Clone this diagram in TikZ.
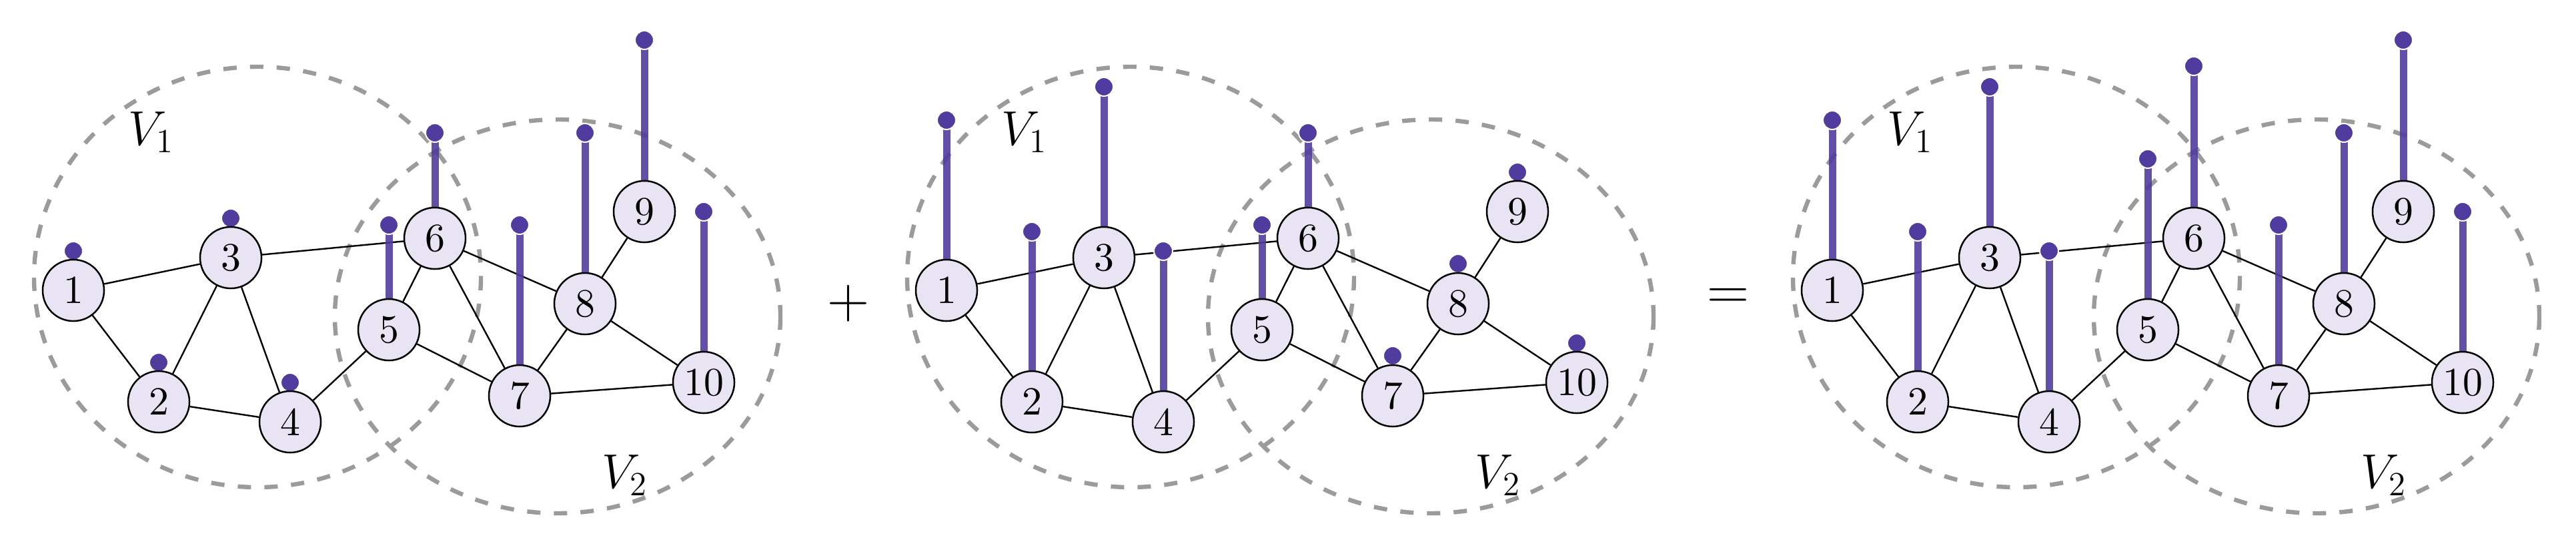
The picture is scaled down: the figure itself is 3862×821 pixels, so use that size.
\documentclass[tikz,border=0pt]{standalone}
\usepackage{fontspec}
\usepackage{tikz}
\usetikzlibrary{backgrounds}
\newfontfamily\nodefont{lmroman10-regular.otf}
\definecolor{nodefill}{RGB}{232,228,243}
\definecolor{sigpurple}{RGB}{80,60,158}
\definecolor{setgray}{RGB}{155,155,155}
\def\sigpanel#1#2#3{%
	\begin{scope}[shift={(#1,0)}]
		\foreach \i/\x/\y in {1/110/435, 2/238/602, 3/346/386, 4/435/632, 5/583/494, 6/652/357, 7/779/593, 8/877/455, 9/966/317, 10/1055/573}
			\node[vertex] (#2\i) at (\x,\y) {\i};
		\node[setlabel] (#2V1) at (227,198) {$V_1$};
		\node[setlabel] (#2V2) at (937,712) {$V_2$};
		\begin{pgfonlayer}{background}
			\draw[region] (386,415) ellipse (335 and 315);
			\draw[region] (836,474) ellipse (334 and 295);
			\foreach \a/\b in {1/2, 1/3, 2/3, 2/4, 3/4, 3/6, 4/5, 5/6, 5/7, 6/7, 6/8, 7/8, 7/10, 8/9, 8/10}
				\draw[link] (#2\a) -- (#2\b);
			\foreach \i/\h in {#3} {
				\coordinate (#2\i t) at (#2\i.north |- 0,\h);
				\draw[stalk] (#2\i) -- (#2\i t);
				\draw[sigdot] (#2\i t) circle (14);
			}
		\end{pgfonlayer}
	\end{scope}}

\begin{document}
\begin{tikzpicture}[x=0.01cm, y=-0.01cm,
	vertex/.style={circle, draw=black, line width=0.025cm, fill=nodefill, minimum size=0.92cm, inner sep=0pt, font=\nodefont\fontsize{17}{20}\selectfont},
	link/.style={draw=black, line width=0.024cm},
	region/.style={draw=setgray, line width=0.064cm, dash pattern=on 0.2cm off 0.2cm},
	stalk/.style={draw=sigpurple, line width=0.11cm, draw opacity=0.9},
	sigdot/.style={fill=sigpurple, draw=white, line width=0.02cm},
	setlabel/.style={font=\fontsize{20}{24}\selectfont},
	op/.style={font=\fontsize{27}{32}\selectfont}]
			%%%%% START %%%%%
			\useasboundingbox (0,0) rectangle (3862,821);
			
			\sigpanel{0}{a}{1/376, 2/543, 3/327, 4/573, 5/337, 6/199, 7/337, 8/199, 9/60, 10/317}
			\node[op] (plus) at (1272,455) {$+$};
			
			\sigpanel{1309}{b}{1/180, 2/347, 3/130, 4/376, 5/337, 6/199, 7/533, 8/395, 9/258, 10/514}
			\node[op] (equals) at (2591,448) {$=$};
			
			\sigpanel{2637}{c}{1/180, 2/347, 3/130, 4/376, 5/238, 6/99, 7/337, 8/199, 9/60, 10/317}
			%%%%% END %%%%%
\end{tikzpicture}
\end{document}
